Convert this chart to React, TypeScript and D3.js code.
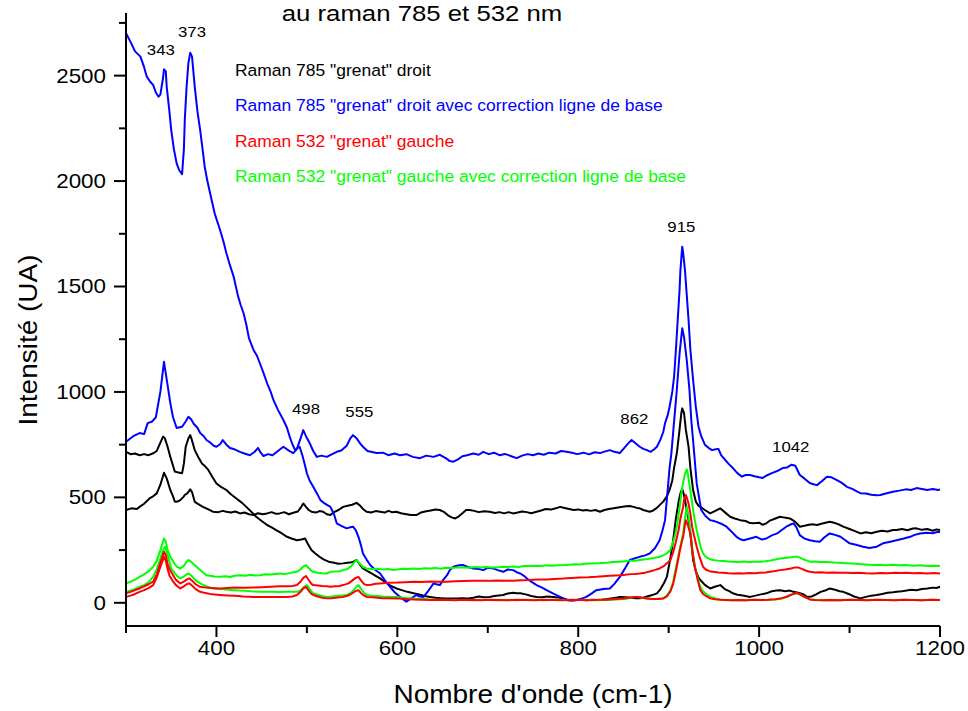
import React from "react";
import * as d3 from "d3";

type P = [number, number];

const xMajorTicks = [400, 600, 800, 1000, 1200];
const xMinorTicks = [300, 500, 700, 900, 1100];
const yMajorTicks = [0, 500, 1000, 1500, 2000, 2500];
const yMinorTicks = [250, 750, 1250, 1750, 2250, 2750];

const titleText = "au raman 785 et 532 nm";
const xTitle = "Nombre d'onde (cm-1)";
const yTitle = "Intensité (UA)";

const legendLabels = [
  'Raman 785 "grenat" droit',
  'Raman 785 "grenat" droit avec correction ligne de base',
  'Raman 532 "grenat" gauche',
  'Raman 532 "grenat" gauche avec correction ligne de base',
];
const legendColors = ["#000000", "#0000FF", "#FF0000", "#00FF00"];

const peakLabels = ["343", "373", "498", "555", "862", "915", "1042"];
const peakLabelX = [338.5, 373, 499, 558, 862, 914, 1035];
const peakLabelY = [2600, 2685, 895, 880, 847, 1757, 714];

const blueHigh: P[] = [[300,764],[308,790],[315,805],[320,800],[324,852],[329,860],[333,880],[338,1000],[342,1143],[345,1060],[349,947],[352,880],[356,829],[362,835],[366,860],[369,882],[372,870],[375,848],[379,830],[382,805],[386,790],[389,772],[393,760],[397,745],[400,740],[404,752],[407,772],[411,750],[415,734],[420,728],[426,716],[431,708],[437,700],[442,715],[446,734],[449,712],[452,696],[457,705],[462,700],[468,720],[474,740],[480,722],[485,710],[489,730],[493,780],[496,819],[499,790],[503,758],[507,720],[511,692],[516,698],[522,692],[528,705],[533,716],[538,722],[544,745],[548,780],[551,795],[555,780],[559,755],[562,740],[567,720],[572,715],[577,710],[584,712],[590,700],[597,708],[603,700],[610,705],[617,692],[625,686],[632,698],[640,692],[647,702],[654,685],[658,672],[662,669],[667,680],[672,695],[677,700],[684,708],[690,702],[695,716],[701,705],[707,712],[713,700],[719,706],[726,695],[732,686],[738,698],[744,705],[750,700],[756,708],[762,702],[768,712],[775,708],[781,720],[787,716],[793,712],[799,705],[806,712],[812,704],[818,714],[824,710],[830,718],[835,724],[840,716],[846,710],[851,735],[855,755],[859,772],[863,758],[868,740],[872,730],[876,724],[880,716],[884,728],[887,740],[891,775],[894,810],[896,852],[899,890],[901,930],[904,1000],[906,1072],[908,1200],[910,1341],[912,1480],[913,1578],[915,1689],[916,1660],[918,1578],[920,1460],[922,1341],[924,1200],[927,1057],[930,930],[933,835],[936,790],[940,750],[944,735],[948,724],[952,728],[955,730],[958,700],[962,680],[966,660],[971,639],[976,615],[981,598],[985,606],[990,606],[995,600],[1000,595],[1004,592],[1009,605],[1014,615],[1020,625],[1026,639],[1031,642],[1036,655],[1040,650],[1045,606],[1050,590],[1056,568],[1060,562],[1064,558],[1069,575],[1075,598],[1080,595],[1086,582],[1091,570],[1097,550],[1103,540],[1108,528],[1112,520],[1118,518],[1124,512],[1130,510],[1134,511],[1140,518],[1148,527],[1155,532],[1162,538],[1168,535],[1174,544],[1180,540],[1186,535],[1192,540],[1198,535],[1200,537]];

const blueLow: P[] = [[300,2701],[305,2660],[310,2615],[316,2590],[320,2540],[323,2495],[327,2470],[330,2456],[333,2420],[336,2400],[338,2410],[341,2490],[342,2530],[344,2520],[345,2448],[348,2330],[350,2242],[353,2150],[356,2084],[359,2050],[362,2033],[364,2150],[365,2290],[367,2448],[369,2560],[371,2609],[373,2590],[376,2448],[379,2330],[382,2242],[385,2140],[387,2068],[390,2000],[393,1942],[398,1847],[404,1768],[408,1710],[411,1658],[415,1600],[419,1547],[424,1452],[427,1410],[430,1373],[433,1320],[436,1254],[441,1199],[445,1170],[448,1136],[452,1090],[456,1041],[460,1000],[463,962],[468,915],[474,867],[478,830],[481,788],[484,752],[487,724],[490,735],[492,740],[495,700],[498,650],[500,614],[503,580],[507,550],[511,520],[515,487],[520,470],[526,455],[530,420],[533,377],[538,365],[544,353],[548,358],[551,361],[554,345],[557,313],[560,270],[562,234],[566,205],[570,179],[575,158],[581,139],[586,108],[592,76],[597,50],[603,28],[607,15],[610,5],[615,20],[621,37],[625,30],[629,28],[634,55],[640,92],[643,88],[647,84],[651,110],[655,131],[658,155],[662,171],[668,178],[673,179],[678,170],[684,163],[690,160],[695,155],[700,166],[706,163],[711,155],[717,147],[722,158],[728,155],[732,145],[736,139],[740,128],[743,116],[748,100],[754,84],[760,72],[765,60],[772,45],[780,28],[787,13],[792,10],[798,13],[804,20],[809,28],[815,45],[820,60],[828,65],[835,68],[840,90],[846,123],[852,165],[857,203],[862,210],[868,218],[874,225],[879,234],[885,260],[890,297],[893,340],[896,392],[899,540],[901,640],[903,709],[906,860],[909,1009],[912,1180],[915,1302],[917,1260],[920,1151],[923,1010],[925,867],[928,720],[931,566],[934,490],[936,440],[941,410],[946,392],[950,388],[953,384],[958,375],[964,361],[970,335],[975,313],[980,300],[983,297],[990,305],[997,313],[1003,300],[1008,305],[1014,320],[1020,329],[1025,345],[1030,361],[1034,370],[1038,377],[1041,360],[1045,321],[1050,305],[1056,297],[1062,292],[1067,289],[1072,310],[1078,329],[1084,322],[1090,313],[1095,298],[1100,282],[1107,275],[1115,266],[1122,260],[1130,266],[1137,282],[1145,290],[1152,297],[1160,305],[1167,313],[1172,322],[1178,329],[1185,332],[1192,330],[1198,337],[1200,335]];

const blackHigh: P[] = [[300,440],[306,448],[312,445],[315,455],[320,470],[326,495],[330,505],[334,519],[338,560],[342,617],[345,590],[349,535],[352,505],[354,479],[357,480],[360,487],[363,500],[365,511],[368,520],[371,538],[373,525],[376,479],[380,468],[385,455],[390,445],[396,432],[402,430],[407,436],[411,432],[416,428],[421,433],[426,424],[431,428],[436,420],[441,416],[446,425],[451,420],[456,424],[461,430],[466,422],[470,424],[475,430],[480,420],[485,427],[490,433],[493,450],[496,471],[499,455],[502,440],[505,432],[510,428],[514,435],[518,432],[522,420],[526,416],[530,430],[535,440],[540,455],[545,460],[550,465],[555,474],[559,460],[562,445],[566,432],[571,428],[576,435],[581,432],[586,428],[590,436],[594,430],[599,432],[604,425],[610,420],[615,416],[621,416],[626,428],[632,434],[637,438],[642,442],[647,440],[652,430],[656,415],[660,405],[664,400],[668,410],[672,425],[676,440],[680,440],[685,436],[690,430],[696,434],[702,432],[708,426],[713,430],[718,424],[723,430],[728,424],[733,428],[738,433],[743,430],[748,425],[754,432],[759,438],[764,445],[770,442],[775,448],[780,455],[785,450],[790,445],[795,440],[800,443],[805,438],[809,440],[814,436],[819,440],[824,432],[829,440],[834,445],[839,448],[844,452],[849,455],[853,458],[857,459],[861,455],[865,450],[868,448],[872,440],[876,435],[879,432],[883,438],[887,450],[890,463],[894,480],[898,505],[901,535],[904,580],[906,640],[909,709],[912,820],[914,900],[915,922],[917,900],[919,820],[922,740],[924,640],[927,535],[930,480],[933,460],[935,455],[940,440],[946,424],[951,435],[957,448],[962,430],[968,408],[973,400],[979,392],[985,388],[990,378],[994,377],[1000,380],[1004,370],[1008,377],[1012,390],[1018,400],[1023,408],[1028,404],[1034,400],[1038,390],[1042,375],[1045,361],[1050,365],[1055,370],[1060,372],[1064,369],[1070,376],[1078,384],[1084,378],[1089,370],[1093,361],[1100,350],[1106,340],[1112,329],[1118,335],[1124,330],[1130,337],[1136,342],[1142,338],[1148,345],[1152,345],[1158,350],[1164,344],[1170,352],[1174,353],[1180,346],[1186,350],[1192,342],[1196,348],[1200,345]];

const blackLow: P[] = [[300,716],[305,705],[310,708],[315,700],[320,705],[325,700],[330,709],[334,720],[338,760],[341,788],[343,780],[346,740],[349,692],[352,650],[354,622],[358,618],[362,614],[364,660],[366,740],[369,780],[371,795],[373,770],[376,724],[380,690],[384,661],[388,645],[391,630],[395,600],[400,566],[405,550],[411,535],[416,515],[422,495],[428,475],[433,455],[439,430],[444,408],[450,388],[456,369],[461,358],[466,345],[472,330],[478,313],[483,305],[489,297],[494,300],[498,305],[501,280],[505,250],[509,235],[514,218],[519,205],[524,195],[530,190],[535,185],[540,187],[545,190],[550,192],[555,203],[558,185],[562,163],[567,150],[572,138],[576,128],[581,116],[586,100],[590,88],[595,76],[599,68],[605,60],[611,52],[618,45],[624,40],[630,32],[636,28],[642,24],[648,22],[654,20],[660,21],[666,20],[672,22],[678,21],[684,24],[690,30],[696,26],[702,28],[707,32],[712,35],[717,37],[722,44],[728,48],[732,45],[736,45],[742,40],[748,32],[754,28],[760,26],[766,30],[772,28],[778,25],[784,20],[788,15],[791,13],[797,12],[803,15],[809,12],[815,14],[820,13],[826,15],[832,18],[838,22],[843,25],[846,28],[852,26],[858,24],[864,22],[868,21],[872,24],[876,30],[880,35],[884,40],[887,45],[891,65],[895,95],[898,123],[901,190],[903,240],[905,297],[908,400],[911,480],[913,520],[915,540],[917,510],[920,440],[922,392],[925,290],[927,203],[930,150],[933,120],[935,108],[940,85],[946,68],[951,76],[957,84],[962,65],[967,55],[971,45],[976,38],[982,35],[990,28],[996,34],[1002,40],[1008,45],[1014,55],[1019,58],[1023,60],[1029,55],[1034,58],[1038,52],[1043,48],[1048,42],[1053,28],[1058,30],[1063,40],[1068,52],[1073,58],[1078,68],[1084,62],[1089,55],[1093,52],[1099,42],[1105,30],[1112,21],[1118,28],[1124,34],[1130,37],[1136,42],[1142,48],[1148,50],[1152,52],[1158,55],[1163,58],[1168,62],[1174,60],[1180,65],[1186,68],[1192,72],[1196,70],[1200,76]];

const greenHigh: P[] = [[300,92],[305,100],[310,110],[315,123],[320,135],[325,150],[330,171],[334,200],[338,250],[342,305],[344,290],[346,250],[349,218],[353,190],[356,172],[360,163],[364,175],[367,195],[369,203],[372,195],[375,182],[378,171],[382,155],[386,140],[389,131],[393,128],[398,125],[404,123],[410,126],[415,122],[420,128],[426,131],[432,128],[438,133],[443,130],[448,131],[454,135],[460,134],[465,137],[470,139],[476,136],[482,142],[489,147],[493,158],[496,172],[499,179],[502,165],[505,152],[507,147],[512,143],[517,140],[522,139],[526,147],[531,148],[536,150],[540,155],[545,160],[550,178],[553,195],[555,203],[558,188],[562,170],[566,163],[572,160],[578,162],[584,158],[590,160],[595,156],[600,158],[606,162],[612,160],[618,163],[624,160],[630,164],[636,163],[642,165],[648,162],[654,166],[660,165],[666,168],[673,168],[680,166],[686,170],[692,168],[698,170],[704,167],[710,168],[716,171],[722,170],[728,172],[734,170],[740,174],[747,174],[753,176],[759,174],[765,178],[771,176],[777,178],[784,179],[790,181],[796,183],[802,182],[808,185],[814,186],[820,187],[826,189],[832,190],[838,193],[846,195],[852,197],[858,200],[864,200],[868,203],[874,206],[880,210],[885,214],[890,218],[894,225],[898,235],[902,252],[905,290],[907,320],[909,361],[911,420],[913,480],[914,519],[916,570],[918,610],[920,633],[921,620],[923,560],[925,503],[927,440],[929,390],[931,345],[934,290],[936,255],[938,234],[941,218],[945,208],[949,203],[955,200],[960,198],[966,196],[971,195],[977,194],[983,196],[989,193],[995,195],[1001,195],[1007,197],[1012,200],[1018,205],[1023,210],[1029,213],[1035,216],[1040,219],[1043,218],[1048,208],[1053,200],[1056,195],[1062,196],[1068,193],[1075,194],[1082,191],[1089,190],[1096,188],[1103,186],[1110,184],[1117,182],[1126,179],[1133,180],[1140,178],[1148,180],[1155,178],[1163,179],[1170,176],[1178,178],[1186,175],[1194,176],[1200,174]];

const greenLow: P[] = [[300,52],[305,58],[310,66],[315,76],[320,84],[325,98],[330,123],[334,160],[338,210],[341,250],[343,266],[345,240],[348,195],[350,163],[354,140],[357,125],[360,116],[364,125],[367,135],[369,139],[372,130],[376,110],[379,100],[382,92],[386,84],[390,76],[396,68],[402,66],[408,64],[413,62],[419,60],[425,58],[432,57],[438,55],[443,54],[448,52],[455,53],[462,52],[470,51],[478,52],[484,53],[490,52],[494,62],[497,76],[500,84],[503,66],[507,45],[512,38],[517,32],[522,28],[528,30],[534,33],[539,35],[544,37],[549,48],[552,62],[555,78],[557,84],[560,65],[563,48],[566,37],[572,33],[578,32],[584,30],[590,29],[599,28],[606,24],[612,22],[618,20],[624,19],[630,18],[636,16],[645,15],[654,14],[663,13],[673,13],[682,12],[692,14],[702,13],[712,12],[722,13],[732,12],[742,14],[752,13],[762,12],[772,14],[782,13],[792,12],[802,14],[812,13],[822,12],[832,14],[842,16],[850,18],[856,22],[862,27],[866,28],[870,24],[876,20],[882,18],[888,18],[894,22],[898,35],[902,60],[905,100],[909,187],[912,250],[914,290],[916,329],[918,400],[920,455],[922,410],[924,345],[926,260],[929,171],[932,120],[935,76],[938,55],[942,40],[946,28],[951,22],[957,16],[963,13],[970,12],[978,13],[986,12],[994,14],[1002,13],[1010,14],[1018,16],[1025,20],[1031,28],[1036,38],[1040,44],[1042,45],[1046,38],[1050,28],[1053,22],[1056,16],[1062,13],[1070,12],[1080,13],[1090,12],[1100,14],[1110,13],[1120,12],[1130,14],[1140,13],[1150,12],[1160,14],[1170,13],[1180,12],[1190,14],[1200,13]];

const redHigh: P[] = [[300,45],[305,52],[310,60],[315,68],[320,78],[325,88],[330,100],[334,135],[338,190],[342,242],[344,225],[346,185],[348,160],[351,139],[355,110],[360,92],[364,100],[367,110],[370,116],[373,105],[377,88],[382,76],[388,72],[395,70],[404,68],[412,70],[420,72],[430,71],[441,73],[450,74],[460,76],[470,78],[478,79],[484,80],[489,84],[493,100],[496,118],[499,127],[502,108],[505,90],[507,84],[512,82],[517,80],[522,79],[526,76],[531,78],[536,80],[540,84],[546,92],[550,105],[554,118],[557,123],[560,105],[563,90],[566,84],[571,86],[576,90],[581,92],[590,95],[600,96],[609,98],[618,100],[627,99],[636,101],[645,100],[655,100],[664,102],[673,103],[682,104],[691,105],[700,104],[710,106],[719,105],[728,105],[737,107],[746,108],[755,110],[765,111],[774,113],[783,115],[792,118],[802,120],[811,121],[820,123],[828,126],[835,128],[841,130],[846,131],[852,133],[858,136],[863,137],[868,139],[874,143],[880,150],[885,156],[890,163],[895,175],[898,188],[902,203],[905,240],[908,290],[911,345],[913,400],[916,455],[917,490],[919,511],[920,500],[922,470],[924,424],[926,360],[928,320],[931,266],[934,220],[936,195],[938,171],[941,158],[945,150],[949,147],[955,144],[960,142],[966,140],[971,139],[977,140],[983,139],[989,141],[995,140],[1001,142],[1007,144],[1012,147],[1018,151],[1023,155],[1029,158],[1035,163],[1040,168],[1043,168],[1048,160],[1052,152],[1056,147],[1062,144],[1068,145],[1075,143],[1082,144],[1089,142],[1096,143],[1103,141],[1110,142],[1118,140],[1126,139],[1134,141],[1142,140],[1150,142],[1157,141],[1163,142],[1170,140],[1178,141],[1186,139],[1194,141],[1200,139]];

const redLow: P[] = [[300,28],[305,34],[310,42],[315,52],[320,60],[325,70],[330,84],[334,120],[338,170],[342,218],[344,200],[346,160],[348,130],[351,108],[355,85],[360,68],[364,78],[367,88],[370,92],[373,82],[377,65],[382,52],[388,46],[395,40],[404,37],[412,35],[420,33],[430,30],[441,28],[450,28],[460,27],[470,28],[478,28],[484,30],[489,37],[493,52],[496,68],[499,76],[502,58],[505,42],[507,37],[512,30],[517,24],[522,21],[527,22],[532,24],[536,26],[540,28],[546,35],[550,45],[554,56],[557,60],[560,45],[563,35],[566,28],[572,26],[578,24],[584,22],[590,22],[599,21],[608,18],[618,16],[627,15],[636,13],[645,14],[655,13],[664,12],[673,14],[682,13],[692,12],[702,14],[712,13],[722,12],[732,14],[742,13],[752,12],[762,14],[772,13],[782,12],[792,14],[802,13],[812,12],[822,14],[832,15],[842,18],[850,20],[856,24],[862,28],[866,28],[870,25],[876,20],[882,18],[888,18],[894,20],[898,30],[902,55],[905,90],[909,171],[912,240],[914,280],[916,313],[918,370],[919,392],[921,370],[924,329],[926,250],[929,171],[932,110],[935,60],[938,42],[942,30],[946,21],[951,17],[957,14],[963,13],[970,12],[978,13],[986,12],[994,14],[1002,13],[1010,14],[1018,17],[1025,22],[1031,30],[1036,40],[1040,45],[1042,46],[1046,38],[1050,28],[1053,22],[1056,16],[1062,13],[1070,12],[1080,13],[1090,12],[1100,14],[1110,13],[1120,12],[1130,14],[1140,13],[1150,12],[1160,14],[1170,13],[1180,12],[1190,14],[1200,13]];

const seriesList: { data: P[]; color: string }[] = [
  { data: blackHigh, color: "#000000" },
  { data: blackLow, color: "#000000" },
  { data: blueHigh, color: "#0000FF" },
  { data: blueLow, color: "#0000FF" },
  { data: greenHigh, color: "#00FF00" },
  { data: greenLow, color: "#00FF00" },
  { data: redHigh, color: "#FF0000" },
  { data: redLow, color: "#FF0000" },
];

const FONT = "'Liberation Sans', Arial, Helvetica, sans-serif";
const SX = 1.12;

function Txt(props: {
  x: number;
  y: number;
  size: number;
  anchor?: "start" | "middle" | "end";
  fill?: string;
  rotate?: number;
  children: React.ReactNode;
}) {
  const { x, y, size, anchor = "start", fill = "#000", rotate, children } = props;
  const tr = `translate(${x},${y})${rotate ? ` rotate(${rotate})` : ""} scale(${SX},1)`;
  return (
    <g transform={tr}>
      <text textAnchor={anchor} fontSize={size} fill={fill} fontFamily={FONT}>
        {children}
      </text>
    </g>
  );
}

export default function App() {
  const W = 968;
  const H = 711;
  const left = 126;
  const right = 940;
  const top = 13;
  const bottom = 626;

  const x = d3.scaleLinear().domain([300, 1200]).range([left, right]);
  const y = d3.scaleLinear().domain([-110, 2797]).range([bottom, top]);

  const line = d3
    .line<P>()
    .x((d) => x(d[0]))
    .y((d) => y(d[1]));

  return (
    <svg
      width={W}
      height={H}
      style={{ position: "absolute", left: 0, top: 0, background: "#fff" }}
    >
      <rect x={0} y={0} width={W} height={H} fill="#fff" />

      {seriesList.map((s, i) => (
        <path
          key={i}
          d={line(s.data) || ""}
          fill="none"
          stroke={s.color}
          strokeWidth={2}
          strokeLinejoin="round"
        />
      ))}

      {/* axes */}
      <line x1={left} x2={left} y1={top} y2={bottom + 1} stroke="#000" strokeWidth={2} />
      <line x1={left - 1} x2={right} y1={bottom} y2={bottom} stroke="#000" strokeWidth={2} />

      {yMajorTicks.map((t) => (
        <g key={"ym" + t}>
          <line x1={left - 12} x2={left} y1={y(t)} y2={y(t)} stroke="#000" strokeWidth={2} />
          <Txt x={left - 20} y={y(t) + 7} size={20} anchor="end">
            {t}
          </Txt>
        </g>
      ))}
      {yMinorTicks.map((t) => (
        <line key={"yn" + t} x1={left - 7} x2={left} y1={y(t)} y2={y(t)} stroke="#000" strokeWidth={2} />
      ))}
      {xMajorTicks.map((t) => (
        <g key={"xm" + t}>
          <line x1={x(t)} x2={x(t)} y1={bottom} y2={bottom + 11} stroke="#000" strokeWidth={2} />
          <Txt x={x(t)} y={655} size={20} anchor="middle">
            {t}
          </Txt>
        </g>
      ))}
      {xMinorTicks.map((t) => (
        <line key={"xn" + t} x1={x(t)} x2={x(t)} y1={bottom} y2={bottom + 7} stroke="#000" strokeWidth={2} />
      ))}

      {/* axis titles */}
      <Txt x={533} y={703} size={25} anchor="middle">
        {xTitle}
      </Txt>
      <Txt x={37} y={340} size={25} anchor="middle" rotate={-90}>
        {yTitle}
      </Txt>

      {/* title */}
      <Txt x={422} y={21} size={23} anchor="middle">
        {titleText}
      </Txt>

      {/* legend */}
      {legendLabels.map((l, i) => (
        <Txt key={l} x={235} y={76 + i * 35.3} size={15.6} fill={legendColors[i]}>
          {l}
        </Txt>
      ))}

      {/* peak labels */}
      {peakLabels.map((p, i) => (
        <Txt key={p} x={x(peakLabelX[i])} y={y(peakLabelY[i])} size={15} anchor="middle">
          {p}
        </Txt>
      ))}
    </svg>
  );
}
